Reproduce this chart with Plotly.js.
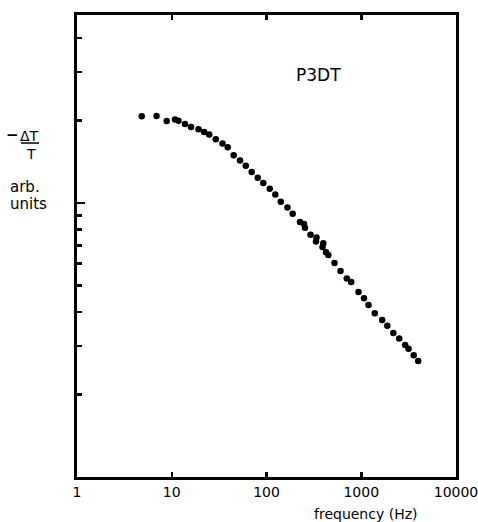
<!DOCTYPE html>
<html>
<head>
<meta charset="utf-8">
<script src="https://cdn.plot.ly/plotly-3.0.1.min.js"></script>
<style>html,body{margin:0;padding:0;background:#fff;}#chart{width:478px;height:522px;}</style>
</head>
<body>
<div id="chart"></div>
<script>
// frequency (Hz)
var frequency = [4.82, 6.90, 8.85, 10.82, 11.78, 13.80, 15.97, 19.16, 22.00, 24.85,
  29.17, 34.33, 38.95, 45.06, 52.52, 60.45, 69.81, 80.76, 92.52, 108.1,
  123.8, 141.5, 166.6, 189.0, 225.8, 248.8, 254.9, 291.3, 337.1, 333.0,
  397.6, 390.0, 424.6, 449.1, 522.2, 603.9, 704.0, 783.2, 935.4, 1069,
  1193, 1390, 1664, 1884, 2179, 2515, 2910, 3154, 3577, 3992];
// -dT/T (arb. units)
var signal = [20.72, 20.77, 19.92, 20.17, 19.95, 19.39, 18.94, 18.59, 18.13, 17.78,
  17.08, 16.49, 15.98, 14.93, 14.27, 13.68, 12.96, 12.36, 11.83, 11.27,
  10.74, 10.10, 9.63, 9.13, 8.52, 8.38, 8.11, 7.66, 7.48, 7.24,
  7.13, 6.91, 6.61, 6.46, 6.04, 5.65, 5.30, 5.15, 4.73, 4.49,
  4.24, 3.96, 3.74, 3.56, 3.35, 3.20, 3.03, 2.94, 2.78, 2.65];
var xTickVals = [1, 10, 100, 1000, 10000];
var xTickText = ["1", "10", "100", "1000", "10000"];
var yMajorTicks = [10];
var yMinorTicks = [2, 3, 4, 5, 6, 7, 8, 9, 20, 30, 40];

var font = "DejaVu Sans, sans-serif";

var trace = {
  x: frequency, y: signal, type: "scatter", mode: "markers",
  marker: {color: "#000", size: 6.5},
  hoverinfo: "none"
};

var layout = {
  width: 478, height: 522,
  margin: {l: 77, r: 22, t: 15, b: 45, pad: 0},
  paper_bgcolor: "#fff", plot_bgcolor: "#fff",
  showlegend: false,
  font: {family: font, size: 14, color: "#000"},
  xaxis: {
    type: "log", range: [0, 4],
    tickvals: xTickVals, ticktext: xTickText,
    ticks: "inside", ticklen: 5, tickwidth: 2.5, tickcolor: "#000",
    showline: true, linewidth: 3, linecolor: "#000", mirror: "ticks",
    showgrid: false, zeroline: false, ticklabeloverflow: "allow",
    tickfont: {family: font, size: 14, color: "#000"}
  },
  yaxis: {
    type: "log", range: [0, Math.log10(48.5)],
    tickvals: yMajorTicks, showticklabels: false,
    ticks: "inside", ticklen: 8, tickwidth: 2.5, tickcolor: "#000",
    minor: {tickvals: yMinorTicks, ticks: "inside", ticklen: 5, tickwidth: 2.5, tickcolor: "#000", showgrid: false},
    showline: true, linewidth: 3, linecolor: "#000", mirror: true,
    showgrid: false, zeroline: false
  },
  shapes: [
    {type: "line", xref: "paper", yref: "paper", x0: -0.1478, x1: -0.1003, y0: 0.7229, y1: 0.7229,
     line: {color: "#000", width: 1.5}}
  ],
  annotations: [
    {text: "P3DT", xref: "paper", yref: "paper", x: 0.6385, y: 0.8701, showarrow: false,
     xanchor: "center", yanchor: "middle", font: {family: font, size: 17, color: "#000"}},
    {text: "frequency (Hz)", xref: "paper", yref: "paper", x: 0.7599, y: -0.0801, showarrow: false,
     xanchor: "center", yanchor: "middle", font: {family: font, size: 14, color: "#000"}},
    {text: "<b>−</b>", xref: "paper", yref: "paper", x: -0.1700, y: 0.7403, showarrow: false,
     xanchor: "center", yanchor: "middle", font: {family: font, size: 15, color: "#000"}},
    {text: "ΔT", xref: "paper", yref: "paper", x: -0.1266, y: 0.7381, showarrow: false,
     xanchor: "center", yanchor: "middle", font: {family: font, size: 14, color: "#000"}},
    {text: "T", xref: "paper", yref: "paper", x: -0.1214, y: 0.7002, showarrow: false,
     xanchor: "center", yanchor: "middle", font: {family: font, size: 14, color: "#000"}},
    {text: "arb.", xref: "paper", yref: "paper", x: -0.1821, y: 0.6277, showarrow: false,
     xanchor: "left", yanchor: "middle", font: {family: font, size: 15, color: "#000"}},
    {text: "units", xref: "paper", yref: "paper", x: -0.1821, y: 0.5909, showarrow: false,
     xanchor: "left", yanchor: "middle", font: {family: font, size: 15, color: "#000"}}
  ]
};

Plotly.newPlot("chart", [trace], layout, {staticPlot: true, displayModeBar: false});
</script>
</body>
</html>
